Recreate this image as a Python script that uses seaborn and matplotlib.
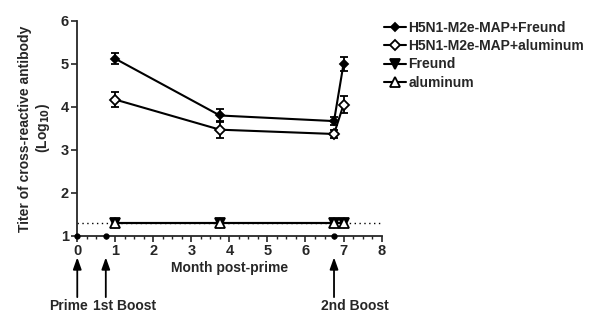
import numpy as np
import matplotlib
matplotlib.use("Agg")
import matplotlib.pyplot as plt
import seaborn as sns
from matplotlib.ticker import MultipleLocator

sns.set_style("ticks")
plt.rcParams['font.family'] = ['Liberation Sans', 'DejaVu Sans']
plt.rcParams['font.weight'] = 'bold'

# data
months = [1, 3.75, 6.75, 7]
map_freund = [5.12, 3.80, 3.67, 5.00]
map_freund_err = [0.13, 0.16, 0.09, 0.16]
map_alum = [4.17, 3.47, 3.37, 4.05]
map_alum_err = [0.17, 0.20, 0.10, 0.20]
freund = [1.30, 1.30, 1.30, 1.30]
alum = [1.30, 1.30, 1.30, 1.30]
baseline_x = [0, 0.75, 6.75]
baseline_y = [1, 1, 1]
detect_limit = 1.3
x_ticks = list(range(0, 9))
y_ticks = list(range(1, 7))
events = ['Prime', '1st Boost', '2nd Boost']
event_x = [0, 0.75, 6.75]
event_label_x = [-0.23, 1.25, 7.29]

fig = plt.figure(figsize=(5.99, 3.12), dpi=100)
ax = fig.add_axes([0.129, 0.244, 0.508, 0.689])

ax.axhline(detect_limit, color='black', ls=(0, (1, 2.5)), lw=1.0, zorder=1)

series = [
    ('H5N1-M2e-MAP+Freund', map_freund, map_freund_err, 'D', 'black', 4.5),
    ('H5N1-M2e-MAP+aluminum', map_alum, map_alum_err, 'D', 'white', 5),
    ('Freund', freund, None, 'v', 'black', 7),
    ('aluminum', alum, None, '^', 'white', 7.5),
]
for label, y, err, mk, fc, ms in series:
    sns.lineplot(x=months, y=y, ax=ax, color='black', lw=1.5, marker=mk,
                 markersize=ms, markerfacecolor=fc, markeredgecolor='black',
                 markeredgewidth=1.3, label=label, legend=False, zorder=3)
    if err is not None:
        ax.errorbar(months, y, yerr=err, fmt='none', ecolor='black',
                    elinewidth=1.3, capsize=3.2, capthick=1.3, zorder=2)

ax.plot(baseline_x, baseline_y, 'o', color='black', ms=3.5, clip_on=False, zorder=4)

ax.set_xlim(0, 8)
ax.set_ylim(1, 6)
ax.set_xticks(x_ticks)
ax.set_xticklabels([str(v) for v in x_ticks], fontweight='bold', fontsize=10.5)
ax.set_yticks(y_ticks)
ax.set_yticklabels([str(v) for v in y_ticks], fontweight='bold', fontsize=10.5)
ax.xaxis.set_minor_locator(MultipleLocator(0.25))
ax.tick_params(axis='both', which='major', length=4, width=1.2, pad=2)
ax.tick_params(axis='x', which='minor', length=2.5, width=1.0)
for s in ['left', 'bottom']:
    ax.spines[s].set_linewidth(1.3)
sns.despine(ax=ax)

ax.set_xlabel('Month post-prime', fontsize=10, fontweight='bold', labelpad=2)
ax.set_ylabel('Titer of cross-reactive antibody\n(Log$_{\\mathbf{10}}$)', fontsize=10,
              fontweight='bold', labelpad=6, linespacing=1.2)

trans = ax.get_xaxis_transform()
for name, xa, xl in zip(events, event_x, event_label_x):
    ax.annotate('', xy=(xa, -0.10), xytext=(xa, -0.285), xycoords=trans,
                textcoords=trans, annotation_clip=False,
                arrowprops=dict(arrowstyle='-|>,head_length=0.7,head_width=0.25',
                                color='black', lw=1.3, shrinkA=0, shrinkB=0))
    ax.text(xl, -0.327, name, transform=trans, ha='center', va='center',
            fontsize=10, fontweight='bold')

leg = ax.legend(loc='upper left', bbox_to_anchor=(0.99, 1.025), frameon=False, fontsize=10,
                handlelength=1.6, handletextpad=0.15, labelspacing=0.3, borderaxespad=0)
for t in leg.get_texts():
    t.set_fontweight('bold')

fig.savefig('out.png', dpi=100)
